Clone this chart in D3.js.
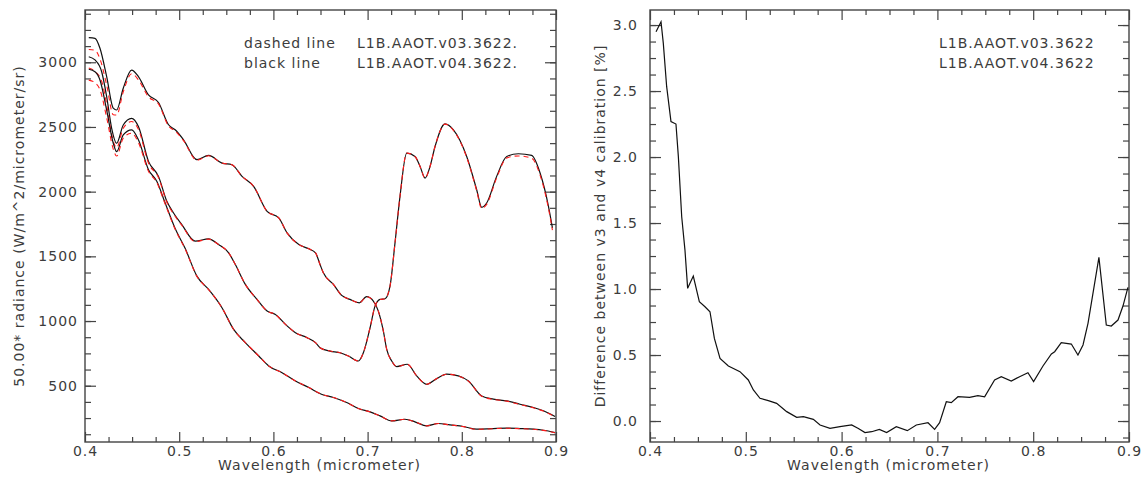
<!DOCTYPE html>
<html>
<head>
<meta charset="utf-8">
<script src="https://cdnjs.cloudflare.com/ajax/libs/d3/7.8.5/d3.min.js"></script>
<style>
body { margin: 0; background: #fff; }
svg text { font-family: "DejaVu Sans", sans-serif; font-size: 14px; fill: #3c3c3c; letter-spacing: 1px; }
</style>
</head>
<body>
<svg id="chart" width="1142" height="477"></svg>
<script>
// left panel: three radiance spectra, v04 = black line, v03 = red dashed
var wl_a = [0.404, 0.4106, 0.4159, 0.423, 0.430, 0.4336, 0.4406, 0.4495, 0.4567, 0.4674, 0.478, 0.4887, 0.4957, 0.5046, 0.5188, 0.5312, 0.5454, 0.556, 0.5667, 0.579, 0.5933, 0.6057, 0.6145, 0.627, 0.6376, 0.6447, 0.6495, 0.653, 0.6637, 0.6725, 0.6813, 0.6913, 0.699, 0.7061, 0.7114, 0.7167, 0.7203, 0.7256, 0.7309, 0.7422, 0.7521, 0.7627, 0.7734, 0.784, 0.7963, 0.807, 0.8211, 0.8335, 0.8477, 0.8618, 0.876, 0.8866, 0.899];
var rad_a_v04 = [3190, 3185, 3108, 2889, 2645, 2631, 2799, 2940, 2889, 2748, 2689, 2517, 2478, 2401, 2247, 2280, 2221, 2208, 2118, 2041, 1848, 1797, 1681, 1591, 1558, 1527, 1437, 1373, 1283, 1198, 1167, 1141, 1188, 1154, 1077, 923, 781, 691, 648, 666, 576, 511, 555, 589, 576, 537, 421, 396, 383, 357, 332, 306, 262];
var rad_a_v03 = [3099, 3092, 3026, 2825, 2594, 2592, 2771, 2911, 2864, 2732, 2678, 2507, 2469, 2394, 2243, 2277, 2221, 2208, 2118, 2041, 1848, 1797, 1681, 1591, 1558, 1527, 1437, 1373, 1283, 1198, 1167, 1141, 1188, 1154, 1077, 923, 781, 691, 648, 666, 576, 511, 555, 589, 575, 536, 419, 394, 381, 354, 329, 304, 260];

var wl_b = [0.404, 0.4106, 0.4177, 0.423, 0.4283, 0.4336, 0.4406, 0.4495, 0.4567, 0.4674, 0.478, 0.4869, 0.494, 0.5028, 0.517, 0.5312, 0.5418, 0.5525, 0.5596, 0.5702, 0.5826, 0.5933, 0.6021, 0.6128, 0.6234, 0.6358, 0.6447, 0.6495, 0.6601, 0.6707, 0.6796, 0.6902, 0.6955, 0.7026, 0.7079, 0.7132, 0.7185, 0.7238, 0.7291, 0.7344, 0.7415, 0.7503, 0.7557, 0.761, 0.7663, 0.7716, 0.7822, 0.7911, 0.8052, 0.8158, 0.8211, 0.8264, 0.837, 0.8477, 0.8601, 0.8742, 0.8831, 0.892, 0.8962];
var rad_b_v04 = [3043, 3018, 2927, 2734, 2490, 2374, 2515, 2567, 2504, 2234, 2118, 1925, 1835, 1745, 1617, 1635, 1591, 1527, 1437, 1283, 1167, 1077, 1051, 974, 910, 871, 833, 794, 768, 755, 730, 691, 755, 948, 1115, 1167, 1172, 1270, 1604, 1964, 2298, 2272, 2195, 2105, 2195, 2349, 2524, 2478, 2272, 2015, 1879, 1912, 2118, 2272, 2293, 2280, 2144, 1887, 1720];
var rad_b_v03 = [2956, 2930, 2853, 2674, 2441, 2339, 2490, 2542, 2482, 2221, 2109, 1918, 1828, 1740, 1614, 1633, 1591, 1527, 1437, 1283, 1167, 1077, 1051, 974, 910, 871, 833, 794, 768, 755, 730, 691, 755, 948, 1115, 1167, 1172, 1270, 1604, 1964, 2298, 2272, 2195, 2105, 2195, 2349, 2522, 2474, 2265, 2007, 1870, 1902, 2106, 2261, 2276, 2258, 2128, 1871, 1703];

var wl_c = [0.404, 0.4106, 0.4159, 0.423, 0.430, 0.4336, 0.4406, 0.4495, 0.4567, 0.4674, 0.4762, 0.4851, 0.4957, 0.5064, 0.5188, 0.5312, 0.5454, 0.5578, 0.5702, 0.5844, 0.595, 0.6092, 0.6234, 0.6376, 0.651, 0.6637, 0.6778, 0.6902, 0.7026, 0.7132, 0.7256, 0.7397, 0.7503, 0.7627, 0.7751, 0.7875, 0.8017, 0.8158, 0.8335, 0.8477, 0.8618, 0.876, 0.8866, 0.899];
var rad_c_v04 = [2946, 2927, 2863, 2631, 2374, 2309, 2438, 2477, 2401, 2170, 2080, 1912, 1715, 1560, 1347, 1244, 1103, 935, 833, 730, 653, 601, 537, 486, 434, 409, 370, 324, 298, 267, 228, 241, 221, 190, 208, 197, 185, 164, 169, 172, 169, 164, 156, 138];
var rad_c_v03 = [2862, 2842, 2788, 2573, 2329, 2275, 2414, 2452, 2380, 2157, 2071, 1904, 1709, 1555, 1345, 1243, 1103, 935, 833, 730, 653, 601, 537, 486, 434, 409, 370, 324, 298, 267, 228, 241, 221, 190, 208, 197, 184, 163, 168, 171, 168, 163, 155, 137];

// right panel: difference between v3 and v4 calibration [%]
var wl_diff = [0.4063, 0.4115, 0.4139, 0.4174, 0.4219, 0.4271, 0.4296, 0.4331, 0.4365, 0.4393, 0.4452, 0.4515, 0.4574, 0.4626, 0.4672, 0.4731, 0.4818, 0.4939, 0.5026, 0.5079, 0.5148, 0.5235, 0.5322, 0.5427, 0.5531, 0.5601, 0.5705, 0.5775, 0.5879, 0.5983, 0.6105, 0.6175, 0.6244, 0.6314, 0.6394, 0.6470, 0.6571, 0.6686, 0.678, 0.6902, 0.6971, 0.7023, 0.7093, 0.7145, 0.7215, 0.7336, 0.7423, 0.7493, 0.7597, 0.7667, 0.7771, 0.7858, 0.7945, 0.8004, 0.8102, 0.819, 0.8224, 0.8293, 0.8398, 0.8467, 0.852, 0.8572, 0.8686, 0.8763, 0.8815, 0.8885, 0.8937, 0.8989];
var diff_pct = [2.949, 3.025, 2.861, 2.533, 2.268, 2.25, 2.003, 1.548, 1.295, 1.005, 1.098, 0.904, 0.866, 0.828, 0.626, 0.475, 0.417, 0.374, 0.311, 0.235, 0.172, 0.154, 0.134, 0.071, 0.028, 0.033, 0.013, -0.030, -0.056, -0.043, -0.030, -0.056, -0.088, -0.081, -0.063, -0.088, -0.043, -0.073, -0.030, -0.013, -0.063, -0.013, 0.146, 0.139, 0.184, 0.179, 0.192, 0.184, 0.311, 0.336, 0.303, 0.336, 0.366, 0.298, 0.417, 0.508, 0.525, 0.593, 0.583, 0.5, 0.576, 0.740, 1.240, 0.727, 0.720, 0.765, 0.871, 1.013];

var wl_ticks = [0.4, 0.5, 0.6, 0.7, 0.8, 0.9];
var rad_ticks = [500, 1000, 1500, 2000, 2500, 3000];
var diff_ticks = [0.0, 0.5, 1.0, 1.5, 2.0, 2.5, 3.0];

var svg = d3.select("#chart");

function zip(xs, ys) {
    return xs.map(function(v, i) { return [v, ys[i]]; });
}

function drawPanel(p) {
    var x = d3.scaleLinear().domain([0.4, 0.9]).range([p.left, p.right]);
    var y = d3.scaleLinear().domain(p.ydomain).range([p.bottom, p.top]);
    var g = svg.append("g");

    var xminor = d3.range(0.4, 0.9001, 0.025).filter(function(v) { return Math.abs(v * 10 - Math.round(v * 10)) > 1e-6; });
    var yminor = d3.range(p.ystart, p.ydomain[1], p.ystep).filter(function(v) { return v > p.ydomain[0]; });

    // IDL style: ticks point inward on all four sides
    var axes = [
        [d3.axisBottom(x).tickValues(wl_ticks).tickSize(-10).tickPadding(4).tickFormat(d3.format(".1f")), "translate(0," + p.bottom + ")"],
        [d3.axisBottom(x).tickValues(xminor).tickSize(-5).tickFormat(""), "translate(0," + p.bottom + ")"],
        [d3.axisTop(x).tickValues(wl_ticks).tickSize(-10).tickFormat(""), "translate(0," + p.top + ")"],
        [d3.axisTop(x).tickValues(xminor).tickSize(-5).tickFormat(""), "translate(0," + p.top + ")"],
        [d3.axisLeft(y).tickValues(p.yticks).tickSize(-11).tickPadding(p.ypad).tickFormat(p.yfmt), "translate(" + p.left + ",0)"],
        [d3.axisLeft(y).tickValues(yminor).tickSize(-6).tickFormat(""), "translate(" + p.left + ",0)"],
        [d3.axisRight(y).tickValues(p.yticks).tickSize(-11).tickFormat(""), "translate(" + p.right + ",0)"],
        [d3.axisRight(y).tickValues(yminor).tickSize(-6).tickFormat(""), "translate(" + p.right + ",0)"]
    ];
    axes.forEach(function(a) {
        var ax = g.append("g").attr("transform", a[1]).call(a[0]);
        ax.attr("font-family", null).attr("font-size", null);
        ax.select(".domain").remove();
        ax.selectAll("line").attr("stroke", "#444").attr("stroke-width", 1.2);
        ax.selectAll("text").attr("fill", "#3c3c3c");
    });

    g.append("rect")
        .attr("x", p.left).attr("y", p.top)
        .attr("width", p.right - p.left).attr("height", p.bottom - p.top)
        .attr("fill", "none").attr("stroke", "#444").attr("stroke-width", 1.4);

    var line = d3.line()
        .curve(p.smooth ? d3.curveMonotoneX : d3.curveLinear)
        .x(function(d) { return x(d[0]); })
        .y(function(d) { return y(d[1]); });

    p.series.forEach(function(s) {
        g.append("path")
            .datum(zip(s.wl, s.v04))
            .attr("d", line)
            .attr("fill", "none").attr("stroke", "#111").attr("stroke-width", 1.2);
        if (s.v03) {
            g.append("path")
                .datum(zip(s.wl, s.v03))
                .attr("d", line)
                .attr("fill", "none").attr("stroke", "#ff1a1a").attr("stroke-width", 1.1)
                .attr("stroke-dasharray", "5,4");
        }
    });

    g.append("text")
        .attr("x", (p.left + p.right) / 2 - 1).attr("y", 470)
        .attr("text-anchor", "middle")
        .text("Wavelength (micrometer)");

    g.append("text")
        .attr("transform", "translate(" + p.ylabelx + "," + ((p.top + p.bottom) / 2) + ") rotate(-90)")
        .attr("text-anchor", "middle").attr("dy", "0.35em")
        .text(p.ylabel);

    p.legend.forEach(function(row, i) {
        row.forEach(function(t) {
            g.append("text").attr("x", t[0]).attr("y", 48 + i * 20).text(t[1]);
        });
    });
}

drawPanel({
    left: 85, right: 556, top: 10, bottom: 442,
    ydomain: [65, 3404], yticks: rad_ticks, ystart: 125, ystep: 125,
    yfmt: d3.format("d"), ypad: 7, smooth: true,
    ylabel: "50.00* radiance (W/m^2/micrometer/sr)", ylabelx: 19,
    series: [
        {wl: wl_a, v04: rad_a_v04, v03: rad_a_v03},
        {wl: wl_b, v04: rad_b_v04, v03: rad_b_v03},
        {wl: wl_c, v04: rad_c_v04, v03: rad_c_v03}
    ],
    legend: [
        [[244, "dashed line"], [357, "L1B.AAOT.v03.3622."]],
        [[244, "black line"], [357, "L1B.AAOT.v04.3622."]]
    ]
});

drawPanel({
    left: 650, right: 1129, top: 10, bottom: 442,
    ydomain: [-0.159, 3.114], yticks: diff_ticks, ystart: -0.125, ystep: 0.125,
    yfmt: d3.format(".1f"), ypad: 12, smooth: false,
    ylabel: "Difference between v3 and v4 calibration [%]", ylabelx: 600,
    series: [
        {wl: wl_diff, v04: diff_pct}
    ],
    legend: [
        [[939, "L1B.AAOT.v03.3622"]],
        [[939, "L1B.AAOT.v04.3622"]]
    ]
});
</script>
</body>
</html>
